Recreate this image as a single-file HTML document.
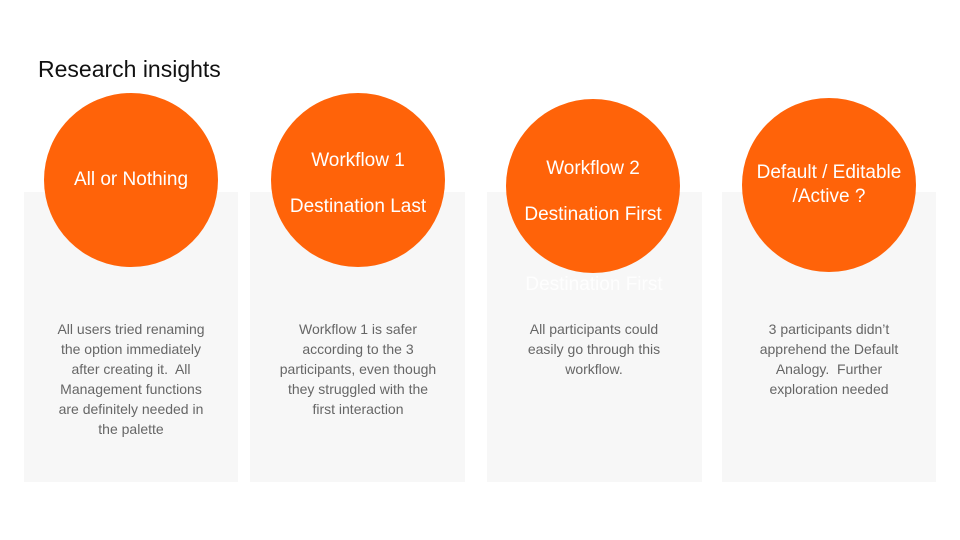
<!DOCTYPE html>
<html><head><meta charset="utf-8"><style>
body{margin:0;width:960px;height:540px;background:#fff;position:relative;overflow:hidden;font-family:"Liberation Sans",sans-serif}
.t{position:absolute;left:38px;top:56px;font-size:23px;color:#111}
.p{position:absolute;top:192px;height:290px;background:#f7f7f7}
.c{position:absolute;width:174px;height:174px;border-radius:50%;background:#ff6309;color:#fff;font-size:19px;text-align:center;display:flex;flex-direction:column;justify-content:center;align-items:center}
.x{position:absolute;top:319px;width:200px;text-align:center;font-size:14px;line-height:20px;color:#666;white-space:nowrap}
.g{position:absolute;top:274px;left:487px;width:214px;text-align:center;font-size:19px;color:#fff;opacity:.9}
</style></head><body>
<div class="t">Research insights</div>
<div class="p" style="left:24px;width:214px"></div>
<div class="p" style="left:250px;width:215px"></div>
<div class="p" style="left:487px;width:215px"></div>
<div class="p" style="left:722px;width:214px"></div>
<div class="g">Destination First</div>
<div class="c" style="left:44px;top:93px">All or Nothing</div>
<div class="c" style="left:271px;top:93px"><div style="margin-top:8px">Workflow 1</div><div style="margin-top:24px">Destination Last</div></div>
<div class="c" style="left:506px;top:99px"><div style="margin-top:12px">Workflow 2</div><div style="margin-top:24px">Destination First</div></div>
<div class="c" style="left:742px;top:98px;line-height:24px"><div>Default / Editable<br>/Active ?</div></div>
<div class="x" style="left:31px">All users tried renaming<br>the option immediately<br>after creating it.&nbsp; All<br>Management functions<br>are definitely needed in<br>the palette</div>
<div class="x" style="left:258px">Workflow 1 is safer<br>according to the 3<br>participants, even though<br>they struggled with the<br>first interaction</div>
<div class="x" style="left:494px">All participants could<br>easily go through this<br>workflow.</div>
<div class="x" style="left:729px">3 participants didn’t<br>apprehend the Default<br>Analogy.&nbsp; Further<br>exploration needed</div>
</body></html>
